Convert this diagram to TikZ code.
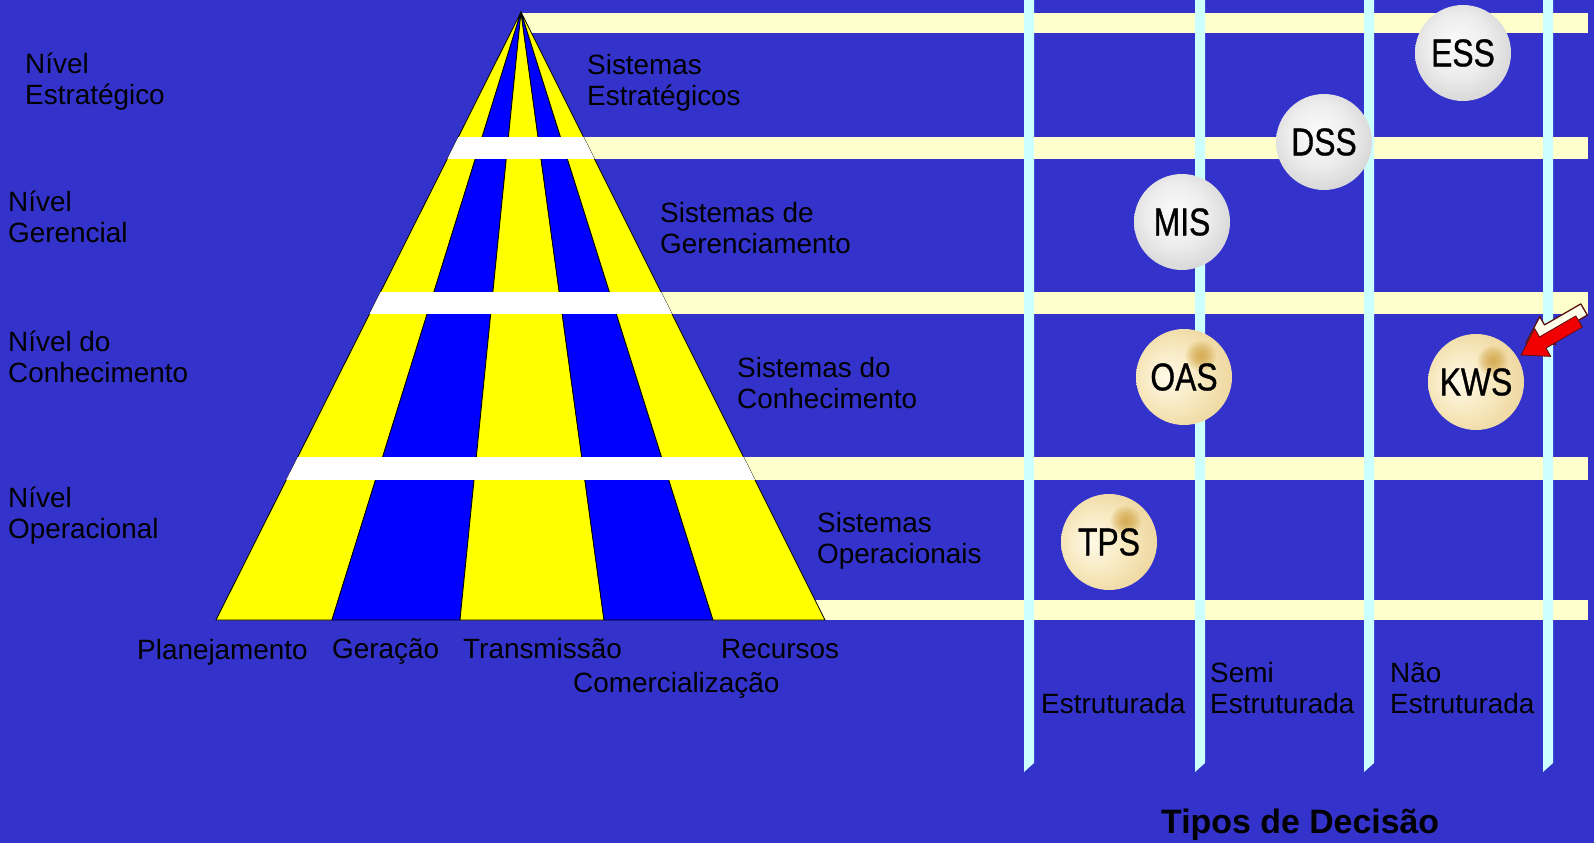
\documentclass[tikz,border=0pt]{standalone}
\usepackage{fontspec}
\setmainfont{Liberation Sans}
\newfontfamily\ballfont[FakeStretch=0.82,FakeBold=0.8]{Liberation Sans}
\usetikzlibrary{positioning}
\definecolor{bgblue}{RGB}{51,51,204}
\definecolor{pyrblue}{RGB}{0,0,255}
\definecolor{pyryellow}{RGB}{255,255,0}
\definecolor{bandcream}{RGB}{255,255,204}
\definecolor{linecyan}{RGB}{204,255,255}
\definecolor{goldcenter}{RGB}{255,250,232}
\definecolor{goldmid}{RGB}{246,230,186}
\definecolor{goldouter}{RGB}{232,204,140}
\definecolor{goldedge}{RGB}{214,174,92}
\definecolor{goldspot}{RGB}{200,146,36}
\definecolor{arrowred}{RGB}{240,0,0}
\definecolor{arrowline}{RGB}{90,16,16}
\pgfdeclareradialshading{graysphere}{\pgfpoint{-4bp}{6bp}}{color(0bp)=(white!96!gray); color(16bp)=(white!86!gray); color(36bp)=(white!58!gray); color(50bp)=(white!42!gray)}
\pgfdeclareradialshading{goldsphere}{\pgfpoint{-10bp}{0bp}}{color(0bp)=(goldcenter); color(18bp)=(goldmid); color(38bp)=(goldouter); color(50bp)=(goldedge)}
\tikzset{
  lbl/.style={font=\fontsize{28}{30.5}\selectfont, align=left, inner sep=0pt, anchor=base west},
  ball/.style={circle, minimum size=96bp, inner sep=0pt, font=\ballfont\fontsize{39}{39}\selectfont},
  grayball/.style={ball, shading=graysphere},
  goldball/.style={ball, shading=goldsphere, path picture={
      \foreach \r in {15,13,...,3}
          \fill[goldspot, fill opacity=0.13] ([shift={(17bp,21bp)}]path picture bounding box.center) circle (\r bp);}},
}

\begin{document}
\begin{tikzpicture}[x=1bp,y=-1bp]
    \fill[bgblue] (0,0) rectangle (1594,843);
    \useasboundingbox (0,0) rectangle (1594,843);
    \def\baseY{620}
    \foreach \t/\b/\s in {13/33/521, 137/159/560, 292/314/640, 457/480/720, 600/620/800}
        \fill[bandcream] (\s,\t) rectangle (1588,\b);
    \foreach \x in {1029,1200,1369,1548}
        \fill[linecyan] (\x-5,0) -- (\x+5,0) -- (\x+5,763) -- (\x-5,772) -- cycle;
    \coordinate (apex) at (521,12);
    \foreach \l/\r/\c in {216/332/pyryellow, 332/460/pyrblue, 460/604/pyryellow, 604/713/pyrblue, 713/825/pyryellow}
        \filldraw[fill=\c, draw=black, line width=0.8bp, line join=round] (apex) -- (\l,\baseY) -- (\r,\baseY) -- cycle;
    \begin{scope}
        \clip (apex) -- (216,\baseY) -- (825,\baseY) -- cycle;
        \foreach \t/\b in {137/159, 292/314, 457/480}
            \fill[white] (200,\t) rectangle (850,\b);
    \end{scope}
    \node[lbl] (nivelEstrat) at (25,104) {Nível\\Estratégico};
    \node[lbl] (nivelGer) at (8,242) {Nível\\Gerencial};
    \node[lbl] (nivelCon) at (8,382) {Nível do\\Conhecimento};
    \node[lbl] (nivelOper) at (8,538) {Nível\\Operacional};
    \node[lbl] (sisEstrat) at (587,105) {Sistemas\\Estratégicos};
    \node[lbl] (sisGer) at (660,253) {Sistemas de\\Gerenciamento};
    \node[lbl] (sisCon) at (737,408) {Sistemas do\\Conhecimento};
    \node[lbl] (sisOper) at (817,563) {Sistemas\\Operacionais};
    \node[lbl] (planej) at (137,659) {Planejamento};
    \node[lbl] (geracao) at (332,658) {Geração};
    \node[lbl] (transm) at (463,658) {Transmissão};
    \node[lbl] (recursos) at (721,658) {Recursos};
    \node[lbl] (comerc) at (573,692) {Comercialização};
    \node[lbl] (estrut) at (1041,713) {Estruturada};
    \node[lbl] (semiEstrut) at (1210,713) {Semi\\Estruturada};
    \node[lbl] (naoEstrut) at (1390,713) {Não\\Estruturada};
    \node[lbl, font=\fontsize{34}{36}\selectfont\bfseries] (tipos) at (1161,833) {Tipos de Decisão};
    \node[grayball] (ess) at (1463,53) {ESS};
    \node[grayball] (dss) at (1324,142) {DSS};
    \node[grayball] (mis) at (1182,222) {MIS};
    \node[goldball] (oas) at (1184,377) {OAS};
    \node[goldball] (kws) at (1476,382) {KWS};
    \node[goldball] (tps) at (1109,542) {TPS};
    \coordinate (kwsTip) at (1521,355);
    \begin{scope}[shift={(1526,343)}]
        \filldraw[fill=bandcream!40!white, draw=arrowline, line width=1.3bp, line join=round]
            (0,0) -- (29.7,1.4) -- (25,-6.9) -- (61.3,-27.9) -- (54.8,-39.1) -- (18.5,-18.1) -- (13.7,-26.4) -- cycle;
    \end{scope}
    \begin{scope}[shift={(kwsTip)}]
        \filldraw[fill=arrowred, draw=arrowline, line width=0.8bp, line join=round]
            (0,0) -- (29.7,1.4) -- (25,-6.9) -- (61.3,-27.9) -- (54.8,-39.1) -- (18.5,-18.1) -- (13.7,-26.4) -- cycle;
    \end{scope}
\end{tikzpicture}
\end{document}
